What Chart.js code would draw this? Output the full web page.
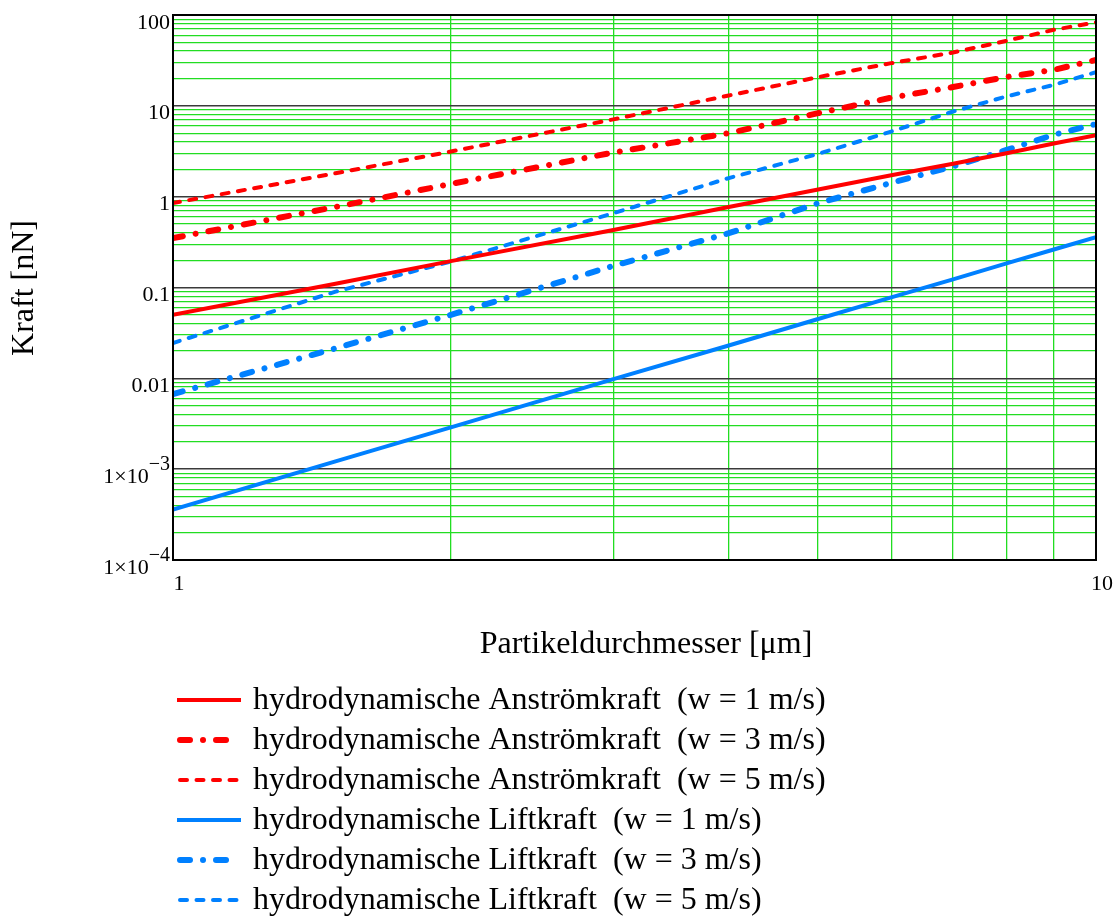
<!DOCTYPE html>
<html>
<head>
<meta charset="utf-8">
<script src="https://cdn.jsdelivr.net/npm/chart.js@4.4.1/dist/chart.umd.min.js"></script>
<style>
  html, body { margin: 0; padding: 0; background: #ffffff; }
  #wrap { width: 1116px; height: 916px; position: relative; }
  canvas { display: block; }
</style>
</head>
<body>
<div id="wrap"><canvas id="c" width="1116" height="916"></canvas></div>
<script>
// Particle diameter in µm
const diameters = [1, 1.5, 2, 3, 4, 5, 6, 7, 8, 9, 10];

// Hydrodynamic drag force (Anströmkraft) in nN
const dragW1 = [0.050, 0.11, 0.195, 0.43, 0.77, 1.2, 1.72, 2.3, 3.0, 3.85, 4.75];
const dragW3 = [0.35, 0.77, 1.38, 3.06, 5.0, 8.3, 12.3, 16.1, 20.8, 24.9, 32];
const dragW5 = [0.85, 1.81, 3.14, 7.1, 13.0, 20.7, 29.5, 38.6, 52, 68.7, 83];

// Hydrodynamic lift force (Liftkraft) in nN
const liftW1 = [3.6e-4, 1.22e-3, 2.89e-3, 9.8e-3, 0.023, 0.045, 0.078, 0.123, 0.184, 0.262, 0.358];
const liftW3 = [0.0067, 0.0214, 0.050, 0.173, 0.396, 0.847, 1.42, 2.15, 3.27, 4.8, 6.3];
const liftW5 = [0.0245, 0.090, 0.193, 0.658, 1.60, 2.96, 5.21, 8.66, 12.7, 17.0, 23.5];

const seriesLabels = [
  'hydrodynamische Anströmkraft  (w = 1 m/s)',
  'hydrodynamische Anströmkraft  (w = 3 m/s)',
  'hydrodynamische Anströmkraft  (w = 5 m/s)',
  'hydrodynamische Liftkraft  (w = 1 m/s)',
  'hydrodynamische Liftkraft  (w = 3 m/s)',
  'hydrodynamische Liftkraft  (w = 5 m/s)'
];

// Axis ticks
const xLabelTicks = [1, 10];
const xTickLabels = ['1', '10'];
const yLabelTicks = [100, 10, 1, 0.1, 0.01, 1e-3, 1e-4];
const yTickMantissa = ['100', '10', '1', '0.1', '0.01', '1\u00d710', '1\u00d710'];
const yTickExponent = ['', '', '', '', '', '\u22123', '\u22124'];

const xTitle = 'Partikeldurchmesser [\u03bcm]';
const yTitle = 'Kraft [nN]';

// Grid positions on the log axes: 1..9 times each decade
const xGrid = [1, 2, 3, 4, 5, 6, 7, 8, 9, 10];
const yGrid = [];
for (let e = -4; e <= 2; e++) {
  for (let m = 1; m <= 9; m++) {
    const v = Number((m * Math.pow(10, e)).toPrecision(3));
    if (v <= 100) yGrid.push(v);
  }
}

const RED = '#ff0000';
const BLUE = '#0080ff';
const SERIF = '"Liberation Serif", "Times New Roman", serif';

const styles = [
  { color: RED,  width: 4,   dash: [],                 cap: 'butt' },
  { color: RED,  width: 6,   dash: [10, 13, 0.01, 13], cap: 'round' },
  { color: RED,  width: 4,   dash: [7, 9.5],           cap: 'round' },
  { color: BLUE, width: 4,   dash: [],                 cap: 'butt' },
  { color: BLUE, width: 6,   dash: [10, 13, 0.01, 13], cap: 'round' },
  { color: BLUE, width: 4,   dash: [7, 9.5],           cap: 'round' }
];

const values = [dragW1, dragW3, dragW5, liftW1, liftW3, liftW5];

function isDecade(v) {
  const l = Math.log10(v);
  return Math.abs(l - Math.round(l)) < 1e-6;
}

const datasets = values.map((arr, i) => ({
  label: seriesLabels[i],
  data: diameters.map((d, k) => ({ x: d, y: arr[k] })),
  borderColor: styles[i].color,
  borderWidth: styles[i].width,
  borderDash: styles[i].dash,
  borderCapStyle: styles[i].cap,
  borderJoinStyle: 'round',
  pointRadius: 0,
  tension: 0,
  fill: false
}));

const decorations = {
  id: 'decorations',
  afterDraw(chart) {
    const ctx = chart.ctx;
    const xs = chart.scales.x;
    const ys = chart.scales.y;
    const a = chart.chartArea;

    // plot frame
    ctx.save();
    ctx.strokeStyle = '#000000';
    ctx.lineWidth = 2;
    ctx.strokeRect(a.left, a.top, a.right - a.left, a.bottom - a.top);
    ctx.restore();

    ctx.save();
    ctx.fillStyle = '#000000';

    // y tick labels, powers of ten with superscript exponent
    yLabelTicks.forEach((v, i) => {
      const py = ys.getPixelForValue(v);
      const rightEdge = a.left - 3;
      const exp = yTickExponent[i];
      ctx.textBaseline = 'alphabetic';
      ctx.textAlign = 'right';
      if (exp) {
        ctx.font = '20px ' + SERIF;
        const ew = ctx.measureText(exp).width;
        ctx.fillText(exp, rightEdge, py + 0.5);
        ctx.font = '22px ' + SERIF;
        ctx.fillText(yTickMantissa[i], rightEdge - ew, py + 13.5);
      } else {
        ctx.font = '22px ' + SERIF;
        ctx.fillText(yTickMantissa[i], rightEdge, py + 13.5);
      }
    });

    // x tick labels
    ctx.font = '22px ' + SERIF;
    ctx.textAlign = 'center';
    xLabelTicks.forEach((v, i) => {
      const px = xs.getPixelForValue(v);
      ctx.fillText(xTickLabels[i], px + 6, a.bottom + 30);
    });

    // axis titles
    ctx.font = '32px ' + SERIF;
    ctx.textAlign = 'center';
    ctx.fillText(xTitle, 646, 653);

    ctx.save();
    ctx.translate(33, 288);
    ctx.rotate(-Math.PI / 2);
    ctx.textAlign = 'center';
    ctx.fillText(yTitle, 0, 0);
    ctx.restore();

    // legend
    const rowY0 = 700;
    const rowStep = 40;
    chart.data.datasets.forEach((ds, i) => {
      const y = rowY0 + i * rowStep;
      ctx.save();
      ctx.strokeStyle = ds.borderColor;
      ctx.lineWidth = ds.borderWidth;
      ctx.setLineDash(ds.borderDash);
      ctx.lineCap = ds.borderCapStyle;
      ctx.beginPath();
      const x0 = ds.borderCapStyle === 'round' ? 180 : 177;
      const x1 = ds.borderCapStyle === 'round' ? 239 : 241;
      ctx.moveTo(x0, y);
      ctx.lineTo(x1, y);
      ctx.stroke();
      ctx.restore();

      ctx.font = '32px ' + SERIF;
      ctx.textAlign = 'left';
      ctx.textBaseline = 'alphabetic';
      ctx.fillStyle = '#000000';
      ctx.fillText(ds.label, 253, y + 9);
    });

    ctx.restore();
  }
};

new Chart(document.getElementById('c'), {
  type: 'line',
  data: { datasets },
  plugins: [decorations],
  options: {
    responsive: false,
    animation: false,
    devicePixelRatio: 1,
    layout: { padding: { left: 173, right: 20, top: 15, bottom: 356 } },
    plugins: { legend: { display: false }, tooltip: { enabled: false } },
    scales: {
      x: {
        type: 'logarithmic',
        min: 1,
        max: 10,
        afterBuildTicks: s => { s.ticks = xGrid.map(v => ({ value: v })); },
        afterFit: s => { s.height = 0; },
        ticks: { display: false, autoSkip: false },
        border: { display: false },
        grid: {
          drawTicks: false,
          lineWidth: 1.3,
          color: c => (c.tick && (c.tick.value === 1 || c.tick.value === 10)) ? 'rgba(0,0,0,0)' : '#22dd22'
        }
      },
      y: {
        type: 'logarithmic',
        min: 1e-4,
        max: 100,
        afterBuildTicks: s => { s.ticks = yGrid.map(v => ({ value: v })); },
        afterFit: s => { s.width = 0; },
        ticks: { display: false, autoSkip: false },
        border: { display: false },
        grid: {
          drawTicks: false,
          lineWidth: c => (c.tick && isDecade(c.tick.value)) ? 1.5 : 1.3,
          color: c => (c.tick && isDecade(c.tick.value)) ? '#3a3a3a' : '#22dd22'
        }
      }
    }
  }
});
</script>
</body>
</html>
